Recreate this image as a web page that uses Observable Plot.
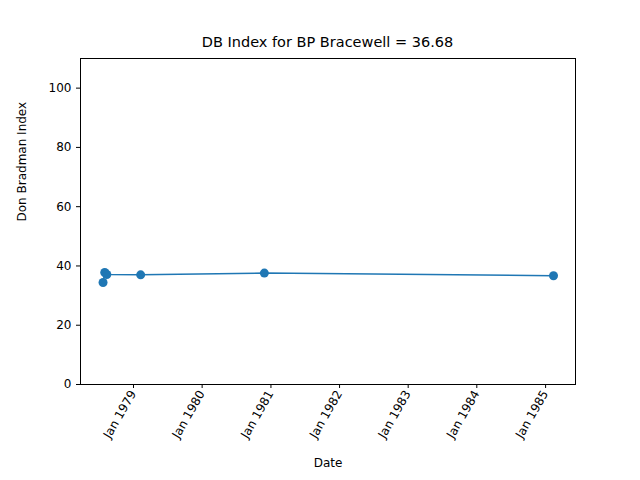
<!DOCTYPE html>
<html><head><meta charset="utf-8">
<script src="https://cdn.jsdelivr.net/npm/d3@7"></script>
<script src="https://cdn.jsdelivr.net/npm/@observablehq/plot@0.6"></script>
<style>
body{margin:0;background:#fff;font-family:"DejaVu Sans",sans-serif}
#wrap{position:relative;width:640px;height:480px}
#title{position:absolute;top:34px;left:80px;width:495px;text-align:center;font-size:14.5px}
</style></head><body>
<div id="wrap"><div id="title">DB Index for BP Bracewell = 36.68</div><div id="chart"></div></div>
<script>
let dates = ['1978-07-23', '1978-08-01', '1978-08-12', '1979-02-08', '1980-11-27', '1985-02-12'];
let dbIndex = [34.4, 37.8, 37.1, 37.0, 37.6, 36.7];
let data = dates.map((d, i) => ({ date: new Date(d), y: dbIndex[i] }));
let tickYears = [1979, 1980, 1981, 1982, 1983, 1984, 1985];
let tickDates = tickYears.map(y => new Date(y + '-01-01'));

let chart = Plot.plot({
  width: 640,
  height: 480,
  marginLeft: 80, marginRight: 65, marginTop: 58, marginBottom: 96,
  style: { fontSize: "12px", fontFamily: "DejaVu Sans, sans-serif", color: "black" },
  x: { domain: [new Date('1978-03-25'), new Date('1985-06-09')] },
  y: { domain: [0, 110] },
  marks: [
    Plot.frame(),
    Plot.axisX({ ticks: tickDates, tickSize: 4, tickFormat: () => "", label: null }),
    Plot.text(tickDates, {
      x: d => d, text: d => 'Jan ' + d.getFullYear(), frameAnchor: "bottom",
      rotate: -60, textAnchor: "end", dy: 9, dx: 3, fontSize: 12
    }),
    Plot.text(["Date"], { frameAnchor: "bottom", dy: 82, fontSize: 12 }),
    Plot.axisY({ ticks: [0, 20, 40, 60, 80, 100], tickSize: 4, label: null }),
    Plot.text(["Don Bradman Index"], { frameAnchor: "left", dx: -58, rotate: -90, fontSize: 12 }),
    Plot.line(data, { x: "date", y: "y", stroke: "#1f77b4", strokeWidth: 1.5 }),
    Plot.dot(data, { x: "date", y: "y", fill: "#1f77b4", r: 4.5 })
  ]
});
document.getElementById("chart").append(chart);
</script></body></html>
